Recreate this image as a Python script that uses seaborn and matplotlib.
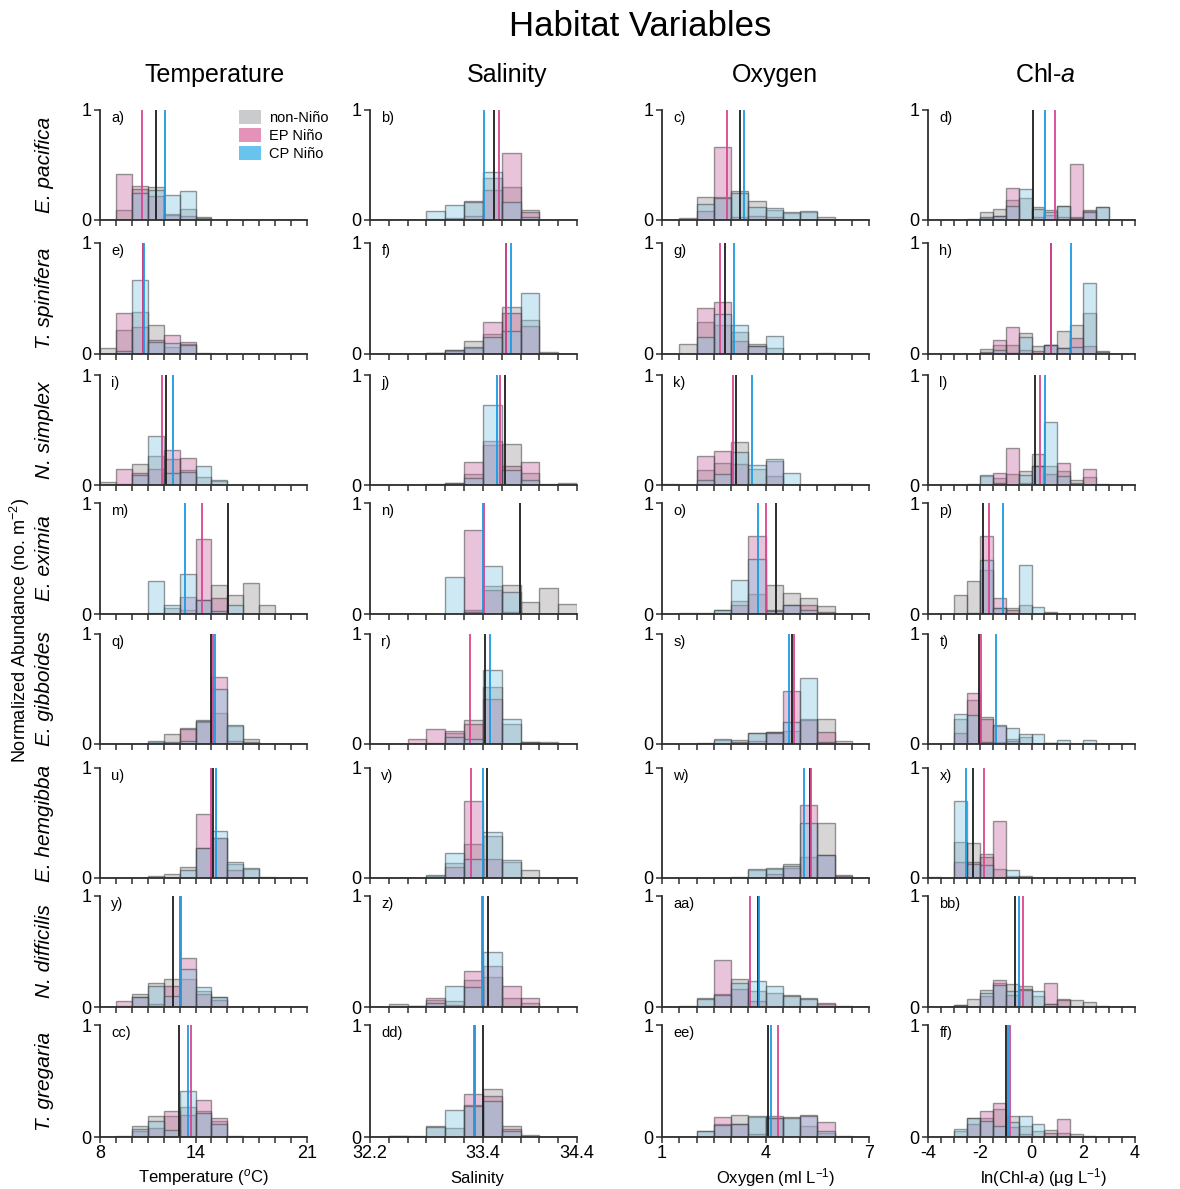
import numpy as np
import pandas as pd
import matplotlib
matplotlib.use("Agg")
import matplotlib.pyplot as plt
from matplotlib.patches import Patch
import seaborn as sns

# ---------------------------------------------------------------- data
SPECIES = ["E. pacifica", "T. spinifera", "N. simplex", "E. eximia",
           "E. gibboides", "E. hemgibba", "N. difficilis", "T. gregaria"]
PANEL_TAGS = ["a", "b", "c", "d", "e", "f", "g", "h", "i", "j", "k", "l",
              "m", "n", "o", "p", "q", "r", "s", "t", "u", "v", "w", "x",
              "y", "z", "aa", "bb", "cc", "dd", "ee", "ff"]
GROUPS = ["non-Niño", "EP Niño", "CP Niño"]

# Temperature: 1 degC bins from 8 to 21
TEMP_NON = [
    [0, 0.09, 0.31, 0.30, 0.055, 0.10, 0.03, 0, 0, 0, 0, 0, 0],
    [0.057, 0.22, 0.38, 0.26, 0.06, 0.09, 0.005, 0, 0, 0, 0, 0, 0],
    [0.03, 0.01, 0.19, 0.26, 0.24, 0.14, 0.07, 0.04, 0, 0, 0, 0, 0],
    [0, 0, 0, 0.01, 0.05, 0.04, 0.13, 0.26, 0.17, 0.28, 0.08, 0, 0],
    [0, 0, 0, 0.02, 0.09, 0.15, 0.22, 0.28, 0.16, 0.05, 0, 0, 0],
    [0, 0, 0, 0.02, 0.04, 0.10, 0.27, 0.36, 0.13, 0.08, 0.01, 0, 0],
    [0, 0.01, 0.12, 0.22, 0.25, 0.25, 0.14, 0.087, 0, 0, 0, 0, 0],
    [0, 0.01, 0.10, 0.19, 0.19, 0.27, 0.23, 0.14, 0.01, 0, 0, 0, 0],
]
TEMP_EP = [
    [0, 0.42, 0.28, 0.22, 0.05, 0.04, 0, 0, 0, 0, 0, 0, 0],
    [0, 0.37, 0.24, 0.13, 0.17, 0.11, 0, 0, 0, 0, 0, 0, 0],
    [0, 0.15, 0.11, 0.15, 0.32, 0.25, 0, 0, 0, 0, 0, 0, 0],
    [0, 0, 0, 0, 0, 0.15, 0.68, 0.14, 0, 0, 0, 0, 0],
    [0, 0, 0, 0, 0, 0.14, 0.20, 0.61, 0.03, 0, 0, 0, 0],
    [0, 0, 0, 0, 0, 0, 0.58, 0.36, 0.07, 0, 0, 0, 0],
    [0, 0.05, 0.09, 0.03, 0.19, 0.44, 0.12, 0.06, 0, 0, 0, 0, 0],
    [0, 0, 0.05, 0.08, 0.23, 0.20, 0.33, 0.17, 0, 0, 0, 0, 0],
]
TEMP_CP = [
    [0, 0, 0.25, 0.27, 0.23, 0.26, 0.02, 0, 0, 0, 0, 0, 0],
    [0, 0.03, 0.67, 0.11, 0.10, 0.08, 0, 0, 0, 0, 0, 0, 0],
    [0, 0, 0.09, 0.45, 0.11, 0.12, 0.17, 0.045, 0, 0, 0, 0, 0],
    [0, 0, 0, 0.30, 0.08, 0.36, 0.13, 0.03, 0.08, 0, 0, 0, 0],
    [0, 0, 0, 0.03, 0.02, 0.03, 0.21, 0.50, 0.17, 0.02, 0, 0, 0],
    [0, 0, 0, 0, 0, 0.07, 0.27, 0.43, 0.145, 0.09, 0, 0, 0],
    [0, 0, 0.09, 0.19, 0.10, 0.34, 0.18, 0.087, 0, 0, 0, 0, 0],
    [0, 0, 0.07, 0.14, 0.06, 0.41, 0.21, 0.12, 0, 0, 0, 0, 0],
]
TEMP_MEANS = [(11.52, 10.64, 12.10), (10.70, 10.68, 10.77), (12.15, 11.88, 12.57),
              (16.07, 14.39, 13.35), (14.96, 15.09, 15.25), (15.09, 14.96, 15.30),
              (12.57, 13.05, 13.09), (12.97, 13.70, 13.55)]

# Salinity: 0.2 bins from 32.2 to 34.4
SAL_NON = [
    [0, 0, 0, 0.01, 0.02, 0.17, 0.38, 0.30, 0.09, 0, 0],
    [0, 0, 0, 0.01, 0.04, 0.12, 0.18, 0.42, 0.31, 0.02, 0],
    [0, 0, 0, 0.005, 0.02, 0.10, 0.36, 0.37, 0.11, 0.01, 0.02],
    [0, 0, 0, 0, 0, 0.04, 0.25, 0.26, 0.105, 0.23, 0.09],
    [0, 0, 0, 0.01, 0.10, 0.22, 0.52, 0.18, 0.02, 0.02, 0],
    [0, 0, 0, 0.02, 0.14, 0.31, 0.38, 0.15, 0.07, 0, 0],
    [0, 0, 0.01, 0.06, 0.05, 0.24, 0.27, 0.08, 0.04, 0, 0],
    [0, 0.01, 0, 0.10, 0.08, 0.29, 0.43, 0.10, 0, 0, 0],
]
SAL_EP = [
    [0, 0, 0, 0, 0.01, 0.04, 0.27, 0.61, 0.076, 0, 0],
    [0, 0, 0, 0, 0.03, 0.05, 0.29, 0.37, 0.25, 0, 0],
    [0, 0, 0, 0, 0, 0.21, 0.40, 0.17, 0.21, 0, 0],
    [0, 0, 0, 0, 0, 0.76, 0.22, 0.02, 0, 0, 0],
    [0, 0, 0.045, 0.14, 0.12, 0.18, 0.41, 0, 0, 0, 0],
    [0, 0, 0, 0, 0.10, 0.70, 0.17, 0, 0, 0, 0],
    [0, 0.03, 0.01, 0.08, 0.02, 0.32, 0.37, 0.185, 0.08, 0, 0],
    [0, 0.01, 0.01, 0, 0, 0.38, 0.37, 0.07, 0.02, 0, 0],
]
SAL_CP = [
    [0, 0, 0, 0.085, 0.136, 0.16, 0.44, 0.16, 0.03, 0, 0],
    [0, 0, 0, 0.01, 0.04, 0.06, 0.15, 0.21, 0.55, 0, 0],
    [0, 0, 0, 0, 0.02, 0.06, 0.73, 0.14, 0.05, 0, 0],
    [0, 0, 0, 0, 0.33, 0.02, 0.43, 0.20, 0, 0, 0],
    [0, 0, 0, 0, 0.06, 0.05, 0.67, 0.23, 0.02, 0, 0],
    [0, 0, 0, 0.03, 0.23, 0.17, 0.42, 0.16, 0, 0, 0],
    [0, 0, 0, 0.04, 0.19, 0.18, 0.50, 0, 0, 0, 0],
    [0, 0, 0, 0.09, 0.24, 0.28, 0.32, 0.05, 0, 0, 0],
]
SAL_MEANS = [(33.52, 33.57, 33.41), (33.65, 33.65, 33.70), (33.64, 33.58, 33.55),
             (33.79, 33.41, 33.40), (33.42, 33.26, 33.48), (33.44, 33.27, 33.40),
             (33.45, 33.40, 33.39), (33.40, 33.32, 33.31)]

# Oxygen: 0.5 ml/L bins from 1 to 7
OXY_NON = [
    [0, 0.02, 0.21, 0.21, 0.26, 0.17, 0.09, 0.06, 0.07, 0.03, 0, 0],
    [0, 0.09, 0.29, 0.26, 0.20, 0.09, 0.05, 0, 0, 0.01, 0, 0],
    [0.005, 0, 0.14, 0.20, 0.39, 0.15, 0.08, 0, 0, 0, 0.01, 0],
    [0, 0.01, 0.01, 0.04, 0.12, 0.18, 0.26, 0.19, 0.14, 0.07, 0, 0],
    [0, 0, 0.01, 0.04, 0.04, 0.10, 0.11, 0.12, 0.23, 0.23, 0.03, 0],
    [0, 0, 0, 0, 0.01, 0.07, 0.08, 0.125, 0.19, 0.50, 0.03, 0],
    [0, 0.005, 0.08, 0.12, 0.25, 0.14, 0.13, 0.11, 0.078, 0.03, 0.01, 0],
    [0, 0, 0.05, 0.12, 0.20, 0.18, 0.17, 0.18, 0.10, 0.04, 0.01, 0],
]
OXY_EP = [
    [0, 0, 0.08, 0.66, 0.03, 0.04, 0.03, 0, 0, 0, 0, 0],
    [0, 0, 0.41, 0.47, 0.12, 0.07, 0, 0, 0, 0, 0, 0],
    [0, 0, 0.26, 0.31, 0.19, 0.01, 0.22, 0, 0, 0, 0, 0],
    [0, 0, 0, 0, 0.08, 0.70, 0.04, 0.08, 0.08, 0.02, 0, 0],
    [0, 0, 0, 0, 0, 0.03, 0.11, 0.48, 0.22, 0.11, 0, 0],
    [0, 0, 0, 0, 0, 0, 0.04, 0.09, 0.66, 0.21, 0.02, 0],
    [0, 0, 0, 0.42, 0.16, 0.05, 0, 0, 0, 0.04, 0, 0],
    [0, 0, 0, 0.18, 0.12, 0.03, 0.19, 0, 0.195, 0.13, 0, 0],
]
OXY_CP = [
    [0, 0, 0.15, 0.20, 0.25, 0.12, 0.11, 0.076, 0.08, 0, 0, 0],
    [0, 0, 0.15, 0.36, 0.26, 0.07, 0.16, 0, 0, 0, 0, 0],
    [0, 0, 0.05, 0.10, 0.30, 0.18, 0.24, 0.11, 0, 0, 0, 0],
    [0, 0, 0, 0.04, 0.31, 0.50, 0.03, 0.08, 0.04, 0, 0, 0],
    [0, 0, 0, 0.045, 0.02, 0.097, 0.10, 0.20, 0.60, 0.02, 0, 0],
    [0, 0, 0, 0, 0, 0.08, 0.095, 0.11, 0.50, 0.21, 0, 0],
    [0, 0, 0.07, 0.11, 0.22, 0.23, 0.19, 0.10, 0.07, 0, 0, 0],
    [0, 0, 0.05, 0.11, 0.12, 0.19, 0.17, 0.17, 0.19, 0.05, 0, 0],
]
OXY_MEANS = [(3.26, 2.87, 3.39), (2.83, 2.69, 3.08), (3.15, 3.05, 3.61),
             (4.30, 4.00, 3.77), (4.78, 4.83, 4.69), (5.29, 5.33, 5.12),
             (3.77, 3.54, 3.80), (4.08, 4.37, 4.17)]

# ln(Chl-a): 0.5 bins from -4 to 4
CHL_NON = [
    [0, 0, 0, 0.01, 0.07, 0.10, 0.18, 0.20, 0.12, 0.09, 0.13, 0.03, 0.08, 0.12, 0, 0],
    [0, 0, 0, 0, 0.045, 0.08, 0.08, 0.19, 0.075, 0.08, 0.21, 0.26, 0.37, 0.03, 0, 0],
    [0, 0, 0, 0.01, 0.08, 0.06, 0.10, 0.13, 0.28, 0.17, 0.13, 0.05, 0.07, 0.01, 0, 0],
    [0, 0, 0.17, 0.30, 0.40, 0.05, 0.05, 0.08, 0, 0.02, 0, 0, 0, 0, 0, 0],
    [0, 0, 0.23, 0.40, 0.25, 0.02, 0.05, 0.06, 0, 0.01, 0, 0, 0, 0, 0, 0],
    [0.01, 0, 0.33, 0.32, 0.22, 0.08, 0.02, 0.02, 0, 0, 0, 0, 0, 0, 0, 0],
    [0, 0, 0.02, 0.07, 0.15, 0.22, 0.21, 0.19, 0.10, 0.03, 0.07, 0.06, 0.045, 0.01, 0, 0],
    [0, 0, 0.05, 0.17, 0.17, 0.25, 0.19, 0.10, 0.05, 0.06, 0.04, 0.03, 0.01, 0, 0, 0],
]
CHL_EP = [
    [0, 0, 0, 0, 0.02, 0.04, 0.29, 0, 0.03, 0.05, 0.03, 0.51, 0.09, 0, 0, 0],
    [0, 0, 0, 0, 0.02, 0.13, 0.24, 0.04, 0.03, 0.08, 0.05, 0.14, 0.07, 0, 0, 0],
    [0, 0, 0, 0, 0, 0.11, 0.34, 0.02, 0.17, 0.10, 0.20, 0.02, 0.15, 0, 0, 0],
    [0, 0, 0, 0.01, 0.70, 0.14, 0.04, 0, 0, 0.01, 0, 0, 0, 0, 0, 0],
    [0, 0, 0.10, 0.46, 0.23, 0.16, 0.03, 0, 0, 0, 0, 0, 0, 0, 0, 0],
    [0, 0, 0.15, 0.15, 0.19, 0.52, 0, 0, 0, 0, 0, 0, 0, 0, 0, 0],
    [0, 0, 0, 0, 0.10, 0.245, 0.11, 0.16, 0, 0.215, 0.06, 0, 0, 0, 0, 0],
    [0, 0, 0, 0.12, 0.23, 0.30, 0.09, 0.03, 0, 0.04, 0.16, 0, 0, 0, 0, 0],
]
CHL_CP = [
    [0, 0, 0, 0, 0.03, 0.04, 0.13, 0.28, 0.10, 0.07, 0.13, 0.02, 0.07, 0.12, 0, 0],
    [0, 0, 0, 0, 0, 0.04, 0.01, 0.15, 0.01, 0.08, 0.05, 0.06, 0.64, 0.02, 0, 0],
    [0, 0, 0, 0, 0.09, 0.02, 0, 0.09, 0.17, 0.57, 0.08, 0, 0, 0, 0, 0],
    [0, 0, 0, 0, 0.49, 0.05, 0, 0.44, 0.06, 0, 0, 0, 0, 0, 0, 0],
    [0, 0, 0.27, 0.26, 0.02, 0.17, 0.15, 0.09, 0.09, 0.01, 0.04, 0, 0.04, 0, 0, 0],
    [0, 0, 0.70, 0.13, 0.12, 0, 0.07, 0, 0, 0, 0, 0, 0, 0, 0, 0],
    [0, 0, 0.02, 0, 0.13, 0.20, 0.14, 0.15, 0.14, 0.03, 0, 0, 0, 0, 0, 0],
    [0, 0, 0.07, 0.17, 0.14, 0.10, 0.13, 0.19, 0.12, 0, 0, 0, 0, 0, 0, 0],
]
CHL_MEANS = [(0.06, 0.90, 0.52), (0.77, 0.77, 1.52), (0.13, 0.32, 0.52),
             (-1.87, -1.64, -1.10), (-2.03, -1.95, -1.39), (-2.26, -1.82, -2.53),
             (-0.63, -0.31, -0.48), (-1.00, -0.84, -0.90)]

VARIABLES = [
    dict(title="Temperature", xlabel="Temperature ($^{o}$C)", lo=8, hi=21, step=1.0,
         ticklabels={8: "8", 14: "14", 21: "21"},
         series=(TEMP_NON, TEMP_EP, TEMP_CP), means=TEMP_MEANS),
    dict(title="Salinity", xlabel="Salinity", lo=32.2, hi=34.4, step=0.2,
         ticklabels={32.2: "32.2", 33.4: "33.4", 34.4: "34.4"},
         series=(SAL_NON, SAL_EP, SAL_CP), means=SAL_MEANS),
    dict(title="Oxygen", xlabel="Oxygen (ml L$^{-1}$)", lo=1, hi=7, step=0.5,
         ticklabels={1: "1", 4: "4", 7: "7"},
         series=(OXY_NON, OXY_EP, OXY_CP), means=OXY_MEANS),
    dict(title="Chl-$\\mathit{a}$", xlabel="ln(Chl-$\\mathit{a}$) (µg L$^{-1}$)", lo=-4, hi=4, step=0.5,
         ticklabels={-4: "-4", -2: "-2", 0: "0", 2: "2", 4: "4"},
         series=(CHL_NON, CHL_EP, CHL_CP), means=CHL_MEANS),
]

# ---------------------------------------------------------------- style
sns.set_style("ticks")
plt.rcParams["font.family"] = ["Liberation Sans", "DejaVu Sans"]
plt.rcParams["mathtext.fontset"] = "custom"
plt.rcParams["mathtext.rm"] = "Liberation Sans"
plt.rcParams["mathtext.it"] = "Liberation Sans:italic"
for key in ("text.color", "axes.labelcolor", "xtick.labelcolor", "ytick.labelcolor"):
    plt.rcParams[key] = "black"

BAR_COLORS = ["#9d9797", "#c66aa0", "#86c8e2"]
LEGEND_COLORS = ["#c9cbcc", "#e592b9", "#68c4ee"]
LINE_COLORS = ["#1e1e1e", "#d9468f", "#1d9be0"]
BAR_EDGE = (0.22, 0.22, 0.22, 0.5)
AXIS_COLOR = "#2e2e2e"

W, H = 1180, 1189
COL_LEFT = [100, 370, 662, 928]
COL_W = 207
ROW_TOP = [110, 243, 375, 503, 634, 768, 896, 1025]
ROW_BOT = [220, 354, 485, 614, 744, 878, 1007, 1137]
COL_TITLE_X = [215, 507, 775, 1045]
XLABEL_X = [203, 477, 776, 1043]

fig = plt.figure(figsize=(W / 100, H / 100), dpi=100)

for c, var in enumerate(VARIABLES):
    n_bins = int(round((var["hi"] - var["lo"]) / var["step"]))
    edges = np.round(var["lo"] + var["step"] * np.arange(n_bins + 1), 3)
    centers = (edges[:-1] + edges[1:]) / 2
    for r in range(len(SPECIES)):
        ax = fig.add_axes([COL_LEFT[c] / W, 1 - ROW_BOT[r] / H,
                           COL_W / W, (ROW_BOT[r] - ROW_TOP[r]) / H])
        for vals, col in zip(var["series"], BAR_COLORS):
            frame = pd.DataFrame({"value": centers, "abundance": vals[r]})
            sns.histplot(data=frame, x="value", weights="abundance",
                         bins=edges.tolist(), ax=ax, color=col, alpha=0.4,
                         edgecolor=BAR_EDGE, linewidth=1.0, stat="count")
        for m, lc in zip(var["means"][r], LINE_COLORS):
            ax.axvline(m, ymin=0, ymax=1, color=lc, lw=1.3)

        ax.set_xlim(var["lo"], var["hi"])
        ax.set_ylim(0, 1)
        ax.set_xlabel("")
        ax.set_ylabel("")
        ax.set_xticks(edges)
        if r == len(SPECIES) - 1:
            labels = []
            for e in edges:
                lab = ""
                for k, v in var["ticklabels"].items():
                    if abs(e - k) < 1e-6:
                        lab = v
                labels.append(lab)
            ax.set_xticklabels(labels, fontsize=13)
        else:
            ax.set_xticklabels([])
        ax.set_yticks([0, 1])
        ax.set_yticklabels(["0", "1"], fontsize=13)
        ax.tick_params(axis="both", direction="out", length=4, width=1.1,
                       color=AXIS_COLOR, labelcolor="black", pad=2)
        for side in ("top", "right"):
            ax.spines[side].set_visible(False)
        for side in ("left", "bottom"):
            ax.spines[side].set_color(AXIS_COLOR)
            ax.spines[side].set_linewidth(1.3)
        ax.text(0.055, 0.99, PANEL_TAGS[r * 4 + c] + ")", transform=ax.transAxes,
                ha="left", va="top", fontsize=10.5)

        if c == 0 and r == 0:
            handles = [Patch(facecolor=lc, edgecolor="none") for lc in LEGEND_COLORS]
            ax.legend(handles, GROUPS, loc="upper right", bbox_to_anchor=(1.13, 1.05),
                      frameon=False, fontsize=10.5, handlelength=1.5,
                      handleheight=1.1, labelspacing=0.2, handletextpad=0.5,
                      borderaxespad=0)

    fig.text(COL_TITLE_X[c] / W, 1 - 75 / H, var["title"], ha="center",
             va="center", fontsize=18)
    fig.text(XLABEL_X[c] / W, 1 - 1178 / H, var["xlabel"], ha="center",
             va="center", fontsize=12)

for r, name in enumerate(SPECIES):
    yc = 1 - (ROW_TOP[r] + ROW_BOT[r]) / 2 / H
    fig.text(45 / W, yc, name, rotation=90, ha="center", va="center",
             fontsize=15, style="italic")

fig.text(20 / W, 1 - 630 / H, "Normalized Abundance (no. m$^{-2}$)", rotation=90,
         ha="center", va="center", fontsize=13)
fig.text(640 / W, 1 - 26 / H, "Habitat Variables", ha="center", va="center",
         fontsize=25)

fig.savefig("out.png", dpi=100)
